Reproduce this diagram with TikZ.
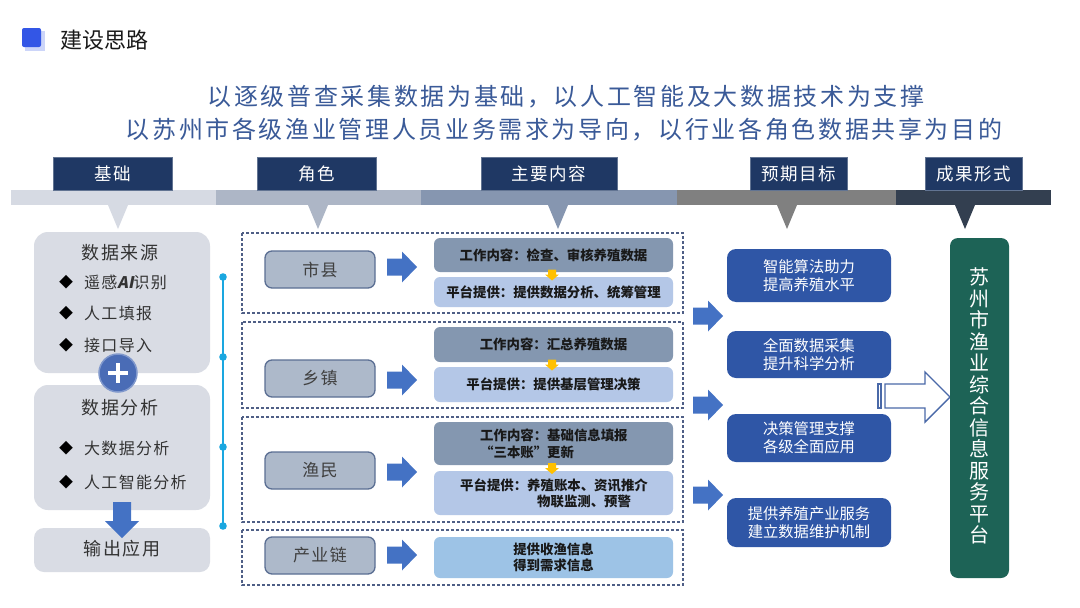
\documentclass[tikz,border=0pt]{standalone}
\usepackage{fontspec}
\newfontfamily\cjk{Noto Sans CJK SC}
\newfontfamily\cjkls[LetterSpace=11]{Noto Sans CJK SC}
\newfontfamily\cjkwide[LetterSpace=8]{Noto Sans CJK SC}
\newfontfamily\cjkslant[FakeSlant=0.2]{Noto Sans CJK SC}
\usetikzlibrary{calc}
\definecolor{iconblue}{HTML}{3356E6}
\definecolor{subcol}{HTML}{3A5A98}
\definecolor{segA}{HTML}{D6DAE3}
\definecolor{segB}{HTML}{ADB6C6}
\definecolor{segC}{HTML}{8696B0}
\definecolor{segD}{HTML}{808080}
\definecolor{segE}{HTML}{333F50}
\definecolor{navy}{HTML}{1F3864}
\definecolor{lgray}{HTML}{D9DCE4}
\definecolor{plusblue}{HTML}{4A6CB6}
\definecolor{arrowblue}{HTML}{4472C4}
\definecolor{cyanline}{HTML}{1AA7E0}
\definecolor{dashcol}{HTML}{4F5F86}
\definecolor{rolefill}{HTML}{ADB9CA}
\definecolor{roleedge}{HTML}{5B6F93}
\definecolor{topfill}{HTML}{8497B0}
\definecolor{botfill}{HTML}{B4C7E7}
\definecolor{skyfill}{HTML}{9DC3E6}
\definecolor{marker}{HTML}{FFC000}
\definecolor{goalfill}{HTML}{2F56A6}
\definecolor{platfill}{HTML}{1D6356}
\definecolor{hollowedge}{HTML}{4A69A8}
\tikzset{
  sub/.style={font=\cjkls\fontsize{24}{28}\selectfont, text=subcol},
  hdr/.style={fill=navy, draw=navy!70!white, line width=0.8pt, text=white, font=\cjkwide\fontsize{17.5}{20}\selectfont},
  lbox/.style={fill=lgray, rounded corners=14pt},
  ltitle/.style={font=\cjkwide\fontsize{18}{20}\selectfont, text=black!80},
  bul/.style={font=\cjk\fontsize{14}{16}\selectfont, text=black},
  btext/.style={anchor=west, font=\cjkwide\fontsize{16}{18}\selectfont, text=black!80},
  rowbox/.style={draw=dashcol, dash pattern=on 3pt off 2pt, line width=1.2pt},
  rolebox/.style={fill=rolefill, draw=roleedge, line width=1.3pt, rounded corners=7pt, minimum width=110pt, minimum height=37pt, text=black!75, font=\cjkwide\fontsize{17}{20}\selectfont},
  cbox/.style={rounded corners=6pt, minimum width=239pt, text=black!90, font=\cjk\bfseries\fontsize{13.4}{16.5}\selectfont, align=center},
  goalbox/.style={fill=goalfill, rounded corners=9pt, minimum width=164pt, text=white, align=center, font=\cjk\fontsize{15.3}{18}\selectfont},
  rarrow/.pic={\fill[arrowblue] (0,-8.5) -- (15,-8.5) -- (15,-15.5) -- (30,0) -- (15,15.5) -- (15,8.5) -- (0,8.5) -- cycle;},
  ymark/.pic={\fill[marker] (-4,-5) -- (4,-5) -- (4,0) -- (7,0) -- (0,6) -- (-7,0) -- (-4,0) -- cycle;}
}
\begin{document}
\begin{tikzpicture}[x=1pt,y=-1pt, every node/.style={inner sep=0pt, font=\cjk}]
\useasboundingbox (0,0) rectangle (1080,608);
\fill[white] (0,0) rectangle (1080,608);

% title
\fill[iconblue!25] (25,31) rectangle (45,51);
\fill[iconblue, rounded corners=2pt] (22,28) rectangle (41,47);
\node[anchor=west, font=\cjk\fontsize{22}{24}\selectfont, text=black!90] (title) at (60,40) {建设思路};

% subtitles
\node[sub] (sub1) at (566,97) {以逐级普查采集数据为基础，以人工智能及大数据技术为支撑};
\node[sub] (sub2) at (564,130) {以苏州市各级渔业管理人员业务需求为导向，以行业各角色数据共享为目的};

% header bar
\fill[segA] (11,190) rectangle (216,205);
\fill[segB] (216,190) rectangle (421,205);
\fill[segC] (421,190) rectangle (677,205);
\fill[segD] (677,190) rectangle (896,205);
\fill[segE] (896,190) rectangle (1051,205);
\fill[segA] (108,205) -- (128,205) -- (118,229) -- cycle;
\fill[segB] (308,205) -- (328,205) -- (318,229) -- cycle;
\fill[segC] (548,205) -- (568,205) -- (558,229) -- cycle;
\fill[segD] (777,205) -- (797,205) -- (787,229) -- cycle;
\fill[segE] (955,205) -- (975,205) -- (965,229) -- cycle;

\node[hdr, minimum width=119pt, minimum height=33pt] (h1) at (112.5,173.5) {基础};
\node[hdr, minimum width=119pt, minimum height=33pt] (h2) at (316.5,173.5) {角色};
\node[hdr, minimum width=136pt, minimum height=33pt] (h3) at (549,173.5) {主要内容};
\node[hdr, minimum width=97pt, minimum height=33pt] (h4) at (798.5,173.5) {预期目标};
\node[hdr, minimum width=97pt, minimum height=33pt] (h5) at (973.5,173.5) {成果形式};

% left column
\node[lbox, minimum width=176pt, minimum height=141pt] (src) at (122,302.5) {};
\node[lbox, minimum width=176pt, minimum height=125pt] (ana) at (122,447.5) {};
\node[lbox, minimum width=176pt, minimum height=44pt, rounded corners=10pt] (out) at (122,550) {};
\node[ltitle] (srct) at (120,253) {数据来源};
\node[bul] (d1) at (66,282) {◆};
\node[btext] (t1) at (84,282) {遥感{\cjkslant\bfseries AI}识别};
\node[bul] (d2) at (66,313) {◆};
\node[btext] (t2) at (84,313) {人工填报};
\node[bul] (d3) at (66,345) {◆};
\node[btext] (t3) at (84,345) {接口导入};
\node[ltitle] (anat) at (120,408) {数据分析};
\node[bul] (d4) at (66,448) {◆};
\node[btext] (t4) at (84,448) {大数据分析};
\node[bul] (d5) at (66,482) {◆};
\node[btext] (t5) at (84,482) {人工智能分析};
\node[ltitle] (outt) at (122,549) {输出应用};
\node[circle, fill=plusblue, draw=plusblue!70!white, line width=1.5pt, minimum size=38pt] (plus) at (118,373) {};
\draw[white, line width=3.5pt] ($(plus.center)+(-10,0)$) -- ($(plus.center)+(10,0)$);
\draw[white, line width=3.5pt] ($(plus.center)+(0,-10)$) -- ($(plus.center)+(0,10)$);
\fill[arrowblue] (113,502) -- (131,502) -- (131,521) -- (139,521) -- (122,538) -- (105,521) -- (113,521) -- cycle;

% cyan timeline
\coordinate (c1) at (223,277);
\coordinate (c2) at (223,357);
\coordinate (c3) at (223,447);
\coordinate (c4) at (223,526);
\draw[cyanline, line width=2pt] (c1) -- (c4);
\foreach \c in {c1,c2,c3,c4} \fill[cyanline] (\c) circle (3.8pt);

% dashed rows
\draw[rowbox] (242,233) rectangle (683,313);
\draw[rowbox] (242,322) rectangle (683,408);
\draw[rowbox] (242,417) rectangle (683,522);
\draw[rowbox] (242,530) rectangle (683,585);

% roles
\node[rolebox] (r1) at (320,269.5) {市县};
\node[rolebox] (r2) at (320,378.5) {乡镇};
\node[rolebox] (r3) at (320,470.5) {渔民};
\node[rolebox] (r4) at (320,555.5) {产业链};
\pic at (387,267) {rarrow};
\pic at (387,380) {rarrow};
\pic at (387,472) {rarrow};
\pic at (387,555) {rarrow};

% contents
\node[cbox, fill=topfill, minimum height=34pt] (c1t) at (553.5,255) {工作内容：检查、审核养殖数据};
\node[cbox, fill=botfill, minimum height=30pt] (c1b) at (553.5,292) {平台提供：提供数据分析、统筹管理};
\node[cbox, fill=topfill, minimum height=35pt] (c2t) at (553.5,344.5) {工作内容：汇总养殖数据};
\node[cbox, fill=botfill, minimum height=35pt] (c2b) at (553.5,384.5) {平台提供：提供基层管理决策};
\node[cbox, fill=topfill, minimum height=43pt] (c3t) at (553.5,443.5) {};
\node[anchor=west, align=left, font=\cjk\bfseries\fontsize{13.4}{16.5}\selectfont, text=black!90] (c3tt) at (480,444) {工作内容：基础信息填报\\“三本账”更新};
\node[cbox, fill=botfill, minimum height=44pt] (c3b) at (553.5,493) {};
\node[anchor=west, align=left, font=\cjk\bfseries\fontsize{13.4}{15.5}\selectfont, text=black!90] (c3bt) at (460,493.5) {平台提供：养殖账本、资讯推介\\\hspace*{77pt}物联监测、预警};
\node[cbox, fill=skyfill, minimum height=41pt] (c4) at (553.5,557.5) {提供收渔信息\\得到需求信息};
\pic at (552,274.5) {ymark};
\pic at (552,364.5) {ymark};
\pic at (552,468) {ymark};

% goal arrows
\pic at (693,316) {rarrow};
\pic at (693,405) {rarrow};
\pic at (693,495) {rarrow};

% goals
\node[goalbox, minimum height=53pt] (g1) at (809,275.5) {智能算法助力\\提高养殖水平};
\node[goalbox, minimum height=47pt] (g2) at (809,354.5) {全面数据采集\\提升科学分析};
\node[goalbox, minimum height=48pt] (g3) at (809,438) {决策管理支撑\\各级全面应用};
\node[goalbox, minimum height=49pt] (g4) at (809,522.5) {提供养殖产业服务\\建立数据维护机制};

% hollow arrow
\draw[hollowedge, fill=white, line width=1.4pt] (878,384) rectangle (881,408);
\draw[hollowedge, fill=white, line width=1.4pt] (885,384) -- (925,384) -- (925,372) -- (950,397) -- (925,422) -- (925,408) -- (885,408) -- cycle;

% platform
\node[fill=platfill, rounded corners=8pt, minimum width=59pt, minimum height=340pt] (plat) at (979.5,408) {};
\node[text=white, align=center, font=\cjk\fontsize{20}{21.5}\selectfont] (platt) at (979.5,406) {苏\\州\\市\\渔\\业\\综\\合\\信\\息\\服\\务\\平\\台};
\end{tikzpicture}
\end{document}
